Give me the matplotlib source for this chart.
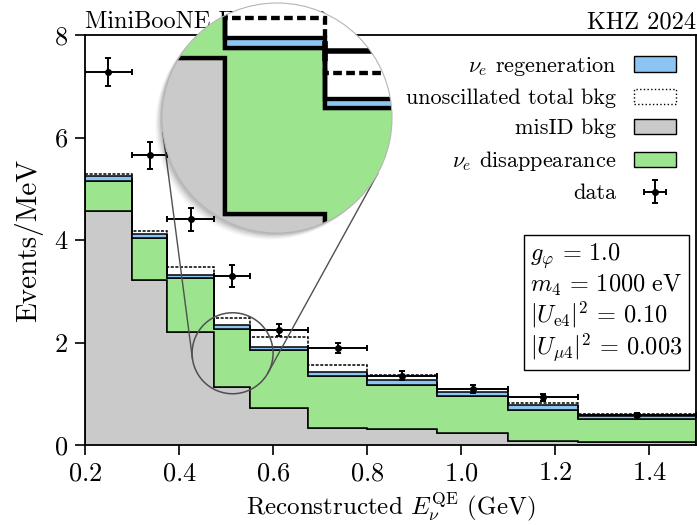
import numpy as np
import matplotlib.pyplot as plt
from matplotlib.patches import Circle, Ellipse, Patch
from matplotlib.lines import Line2D

plt.rcParams['font.family'] = 'serif'
plt.rcParams['font.serif'] = ['cmr10']
plt.rcParams['mathtext.fontset'] = 'cm'
plt.rcParams['axes.formatter.use_mathtext'] = True
plt.rcParams['axes.unicode_minus'] = False

# bins + values
edges = [0.2, 0.3, 0.375, 0.475, 0.55, 0.675, 0.8, 0.95, 1.1, 1.25, 1.5]
misid = [4.57, 3.22, 2.20, 1.13, 0.73, 0.34, 0.31, 0.23, 0.07, 0.05]
disapp = [0.58, 0.81, 1.06, 1.14, 1.13, 1.01, 0.86, 0.73, 0.61, 0.45]
regen = [0.09, 0.08, 0.06, 0.07, 0.06, 0.07, 0.09, 0.08, 0.10, 0.06]
unosc = [5.28, 4.17, 3.48, 2.48, 2.10, 1.57, 1.37, 1.09, 0.82, 0.60]
data_y = [7.28, 5.65, 4.40, 3.30, 2.25, 1.90, 1.35, 1.09, 0.93, 0.58]
data_err = [0.27, 0.27, 0.22, 0.22, 0.12, 0.10, 0.09, 0.08, 0.07, 0.04]

params = [r'$g_\varphi\, =\, 1.0$', r'$m_4\, =\, 1000\ \mathrm{eV}$',
          r'$|U_{\mathrm{e}4}|^2\, =\, 0.10$', r'$|U_{\mu 4}|^2\, =\, 0.003$']

grey = '#cacaca'
green = '#9de48f'
blue = '#8cc4f4'

e = np.array(edges)
centers = (e[1:] + e[:-1]) / 2
halfw = (e[1:] - e[:-1]) / 2
top_mis = np.array(misid)
top_dis = top_mis + np.array(disapp)
top_reg = top_dis + np.array(regen)


def draw_all(ax, lw, elw, ms, cs):
    ax.stairs(top_mis, e, baseline=0, fill=True, facecolor=grey, edgecolor='k', lw=lw)
    ax.stairs(top_dis, e, baseline=top_mis, fill=True, facecolor=green, edgecolor='k', lw=lw)
    ax.stairs(top_reg, e, baseline=top_dis, fill=True, facecolor=blue, edgecolor='k', lw=lw)
    ax.stairs(unosc, e, baseline=None, color='k', ls=(0, (2, 1)), lw=lw)
    eb = ax.errorbar(centers, data_y, xerr=halfw, yerr=data_err, fmt='o', color='k',
                     ms=ms, elinewidth=elw, capsize=cs, capthick=elw)
    return eb


fig = plt.figure(figsize=(6.97, 5.25), dpi=100)
W, H = 697, 525
ax = fig.add_axes([85 / W, 1 - 445 / H, 611 / W, 410 / H])
eb = draw_all(ax, 1.1, 1.4, 4, 2.5)

ax.set_xlim(0.2, 1.5)
ax.set_ylim(0, 8)
ax.set_yticks([0, 2, 4, 6, 8])
ax.set_xticks([0.2, 0.4, 0.6, 0.8, 1.0, 1.2, 1.4])
ax.tick_params(labelsize=19, length=7, width=1.2, direction='out', pad=5)
for s in ax.spines.values():
    s.set_linewidth(1.3)
ax.set_xlabel(r'Reconstructed $E_\nu^{\rm QE}$ (GeV)', fontsize=18, labelpad=4)
ax.set_ylabel('Events/MeV', fontsize=21)
ax.yaxis.set_label_coords(-0.068, 0.5)
ax.set_title('MiniBooNE FHC 2020', loc='left', fontsize=17.5, pad=5)
ax.set_title('KHZ 2024', loc='right', fontsize=17.5, pad=5)

handles = [Patch(fc=blue, ec='k'), Patch(fc='white', ec='k', ls=':'),
           Patch(fc=grey, ec='k'), Patch(fc=green, ec='k'), eb]
labels = [r'$\nu_e$ regeneration', 'unoscillated total bkg', 'misID bkg',
          r'$\nu_e$ disappearance', 'data']
ax.legend(handles, labels, loc='upper right', frameon=False, markerfirst=False,
          fontsize=16, borderaxespad=0.5, labelspacing=0.48, handlelength=1.9)

ax.text(0.978, 0.197, '\n'.join(params), transform=ax.transAxes, ha='right', va='bottom',
        multialignment='left', fontsize=17.5, linespacing=1.08,
        bbox=dict(boxstyle='square,pad=0.25', fc='white', ec='k', lw=1))

# zoomed circle
zc = (0.514, 1.79)      # zoom centre in data
r_px = 40.5             # small circle radius (px)
C = (277, 118)          # big circle centre (px, from top-left)
R = 115
px_x = 611 / 1.3
px_y = 410 / 8
rx, ry = r_px / px_x, r_px / px_y

axin = fig.add_axes([(C[0] - R) / W, (H - C[1] - R) / H, 2 * R / W, 2 * R / H], zorder=5)
axin.add_patch(Circle((0.5, 0.5), 0.5, transform=axin.transAxes, fc='white', ec='none', zorder=0))
mag = R / r_px
draw_all(axin, 1.1 * mag, 1.4 * mag, 4 * mag, 2.5 * mag)
axin.set_xlim(zc[0] - rx, zc[0] + rx)
axin.set_ylim(zc[1] - ry, zc[1] + ry)
axin.axis('off')
clip = Circle((0.5, 0.5), 0.5, transform=axin.transAxes)
for a in axin.patches + axin.lines + axin.collections:
    a.set_clip_path(clip)
axin.add_patch(Circle((0.5, 0.5), 0.5, transform=axin.transAxes, fill=False,
                      ec='#b5b5b5', lw=0.8, clip_on=False, zorder=10))

# soft shadow
for k, al in enumerate([0.10, 0.08, 0.06, 0.04]):
    off = 2 + 1.5 * k
    fig.add_artist(Ellipse(((C[0] - off) / W, 1 - (C[1] + off) / H), 2 * R / W, 2 * R / H,
                           transform=fig.transFigure, fc='k', ec='none', alpha=al, zorder=4))

# small circle on main plot
sc_disp = ax.transData.transform(zc)
sc = (sc_disp[0], H - sc_disp[1])
fig.add_artist(Ellipse((sc[0] / W, 1 - sc[1] / H), 2 * r_px / W, 2 * r_px / H,
                       transform=fig.transFigure, fill=False, ec='#505050', lw=1.1, zorder=3))

# outer tangent lines between circles
d = np.array([C[0] - sc[0], C[1] - sc[1]])
dist = np.hypot(*d)
u_ang = np.arctan2(d[1], d[0])
phi = np.arccos((R - r_px) / dist)
for sgn in (1, -1):
    a = u_ang + sgn * phi
    n = np.array([np.cos(a), np.sin(a)])
    p1 = np.array(sc) - r_px * n
    p2 = np.array(C) - R * n
    fig.add_artist(Line2D([p1[0] / W, p2[0] / W], [1 - p1[1] / H, 1 - p2[1] / H],
                          transform=fig.transFigure, color='#505050', lw=1.0, zorder=3))

fig.savefig('out.png', dpi=100)
